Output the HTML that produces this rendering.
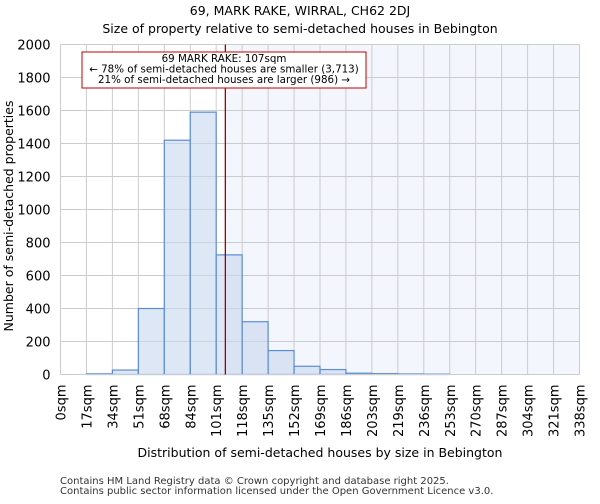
<!DOCTYPE html>
<html><head><meta charset="utf-8"><style>
body{margin:0;background:#fff;font-family:"DejaVu Sans","Liberation Sans",sans-serif;}
</style></head><body>
<svg id="chart" width="600" height="500" xmlns="http://www.w3.org/2000/svg" font-family="DejaVu Sans, Liberation Sans, sans-serif">
<text x="300" y="15" text-anchor="middle" font-size="12.5">69, MARK RAKE, WIRRAL, CH62 2DJ</text>
<text x="300" y="33" text-anchor="middle" font-size="12.5">Size of property relative to semi-detached houses in Bebington</text>
<g id="plot"></g>
<text x="320" y="457" text-anchor="middle" font-size="12.5">Distribution of semi-detached houses by size in Bebington</text>
<text transform="translate(13,216) rotate(-90)" text-anchor="middle" font-size="12.5">Number of semi-detached properties</text>
<text x="60" y="484" font-size="10" fill="#333">Contains HM Land Registry data © Crown copyright and database right 2025.</text>
<text x="60" y="494" font-size="10" fill="#333">Contains public sector information licensed under the Open Government Licence v3.0.</text>
</svg>
<script>
const binLabels=["0sqm","17sqm","34sqm","51sqm","68sqm","84sqm","101sqm","118sqm","135sqm","152sqm","169sqm","186sqm","203sqm","219sqm","236sqm","253sqm","270sqm","287sqm","304sqm","321sqm","338sqm"];
const binEdges=[0,17,34,51,68,84,101,118,135,152,169,186,203,219,236,253,270,287,304,321,338];
const counts=[0,4,27,400,1420,1590,725,320,145,50,30,8,5,3,2,0,0,0,0,0];
const yTicks=[0,200,400,600,800,1000,1200,1400,1600,1800,2000];
const propertySize=107;
const NS="http://www.w3.org/2000/svg";
const L=60.5,R=579.5,T=44.5,B=374.5,yMax=2000;
const bw=(R-L)/counts.length;
const xIdx=i=>L+i*bw;
function xVal(v){for(let i=0;i<binEdges.length-1;i++){if(v<=binEdges[i+1])return xIdx(i+(v-binEdges[i])/(binEdges[i+1]-binEdges[i]));}return R;}
const y=v=>B-v/yMax*(B-T);
const g=document.getElementById('plot');
function mk(t,a){const e=document.createElementNS(NS,t);for(const k in a)e.setAttribute(k,a[k]);g.appendChild(e);return e;}
const px=xVal(propertySize);
let sh=mk('rect',{x:px,y:T,width:R-px,height:B-T,fill:'#f3f6fd'});


yTicks.forEach(t=>{let l=mk('line',{x1:L,x2:R,y1:y(t),y2:y(t),stroke:'#ccc'});


let tx=mk('text',{x:L-10,y:y(t)+5,'text-anchor':'end','font-size':'13'});tx.textContent=t;

});
binLabels.forEach((lb,i)=>{const x=xIdx(i);let l=mk('line',{x1:x,x2:x,y1:T,y2:B,stroke:'#ccc'});


let tx=mk('text',{transform:`translate(${x+5},${B+10}) rotate(-90)`,'text-anchor':'end','font-size':'13'});tx.textContent=lb;

});
counts.forEach((c,i)=>{if(c<=0)return;let r=mk('rect',{x:xIdx(i),y:y(c),width:bw,height:B-y(c),fill:'rgba(200,215,238,0.6)',stroke:'#5b8dd6','stroke-width':1.2});

});
let ax=mk('line',{x1:L,x2:R,y1:B,y2:B,stroke:'#ccc'});


let pl=mk('line',{x1:px,x2:px,y1:T,y2:B,stroke:'#a00000','stroke-width':1.3});


let bx=mk('rect',{x:82,y:52,width:284,height:36,fill:'#fff',stroke:'#c00000','stroke-width':1});


["69 MARK RAKE: 107sqm","← 78% of semi-detached houses are smaller (3,713)","21% of semi-detached houses are larger (986) →"].forEach((s,i)=>{let t=mk('text',{x:224,y:62+i*10.5,'text-anchor':'middle','font-size':'10.3'});t.textContent=s;

});
</script>
</body></html>
